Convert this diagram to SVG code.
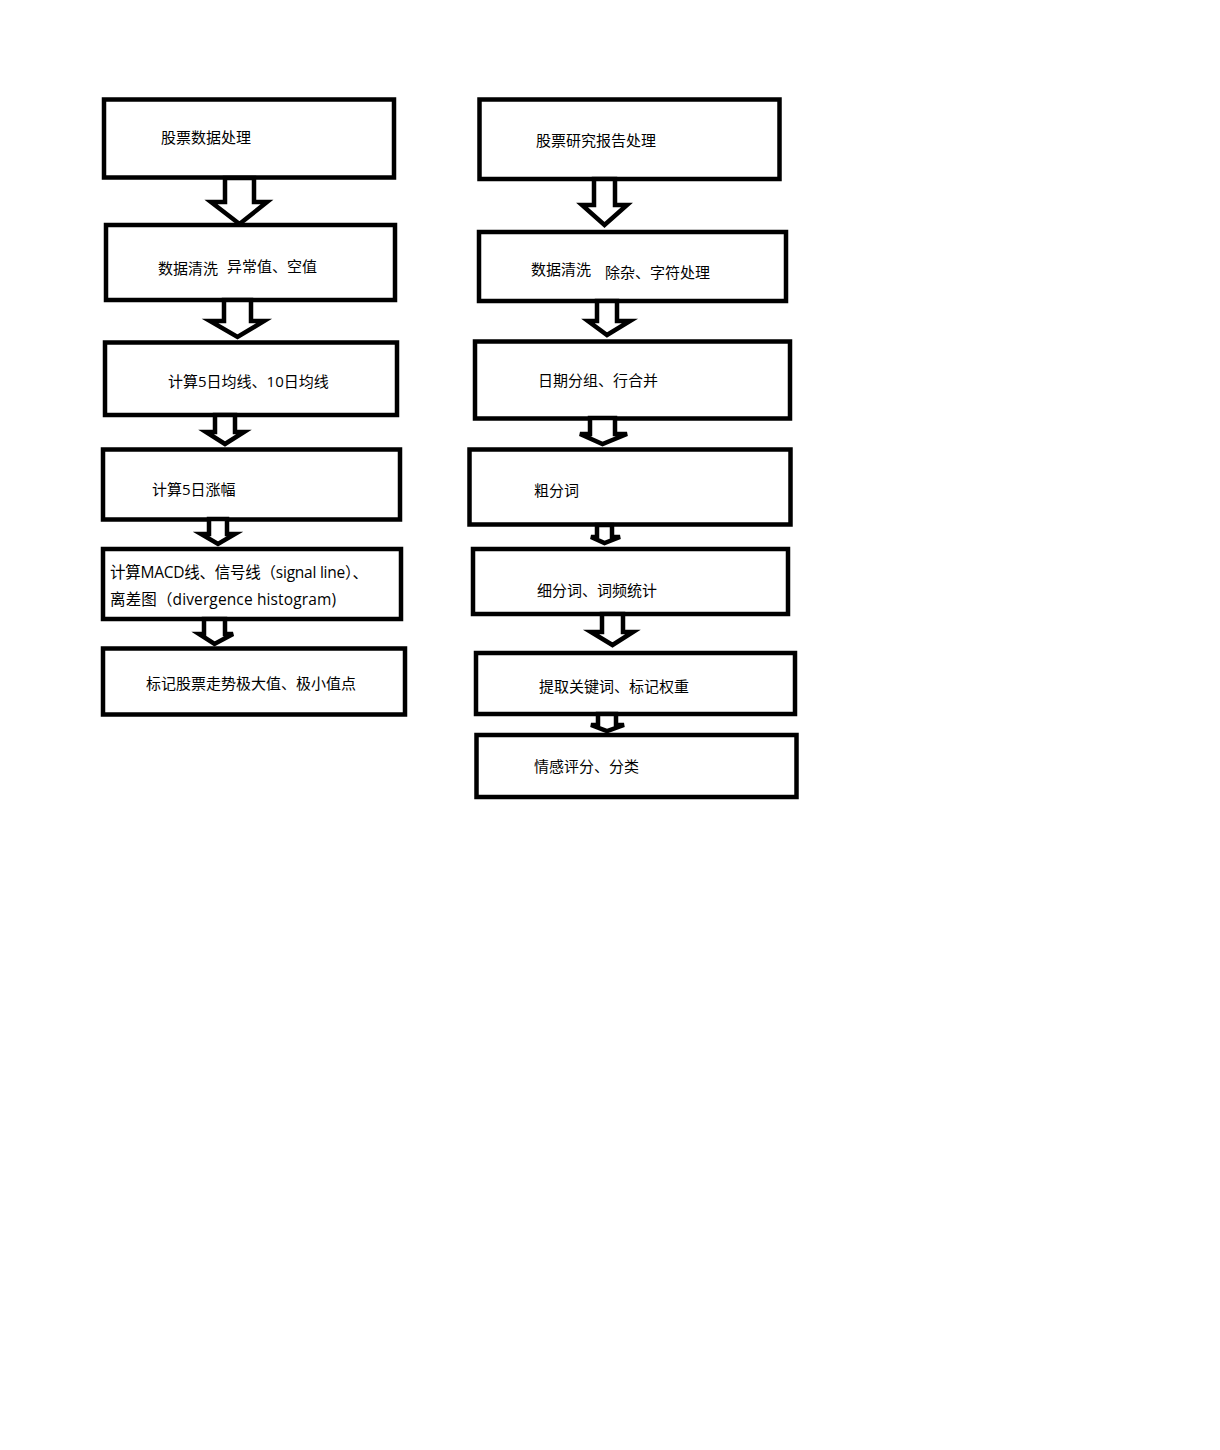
<svg xmlns="http://www.w3.org/2000/svg" width="1220" height="1450" viewBox="0 0 1220 1450">
<style>
.box{fill:#fff;stroke:#000;stroke-width:4.5}
.arr{fill:#fff;stroke:#000;stroke-width:4.5;stroke-linejoin:miter}
text{font-family:"Open Sans","Noto Sans CJK SC",sans-serif;font-size:15px;fill:#000}
.lg{font-size:15.5px}
</style>
<rect width="1220" height="1450" fill="#fff"/>
<g id="nodes">
<g id="n1"><rect class="box" x="104" y="99.5" width="290" height="78"/><text x="161" y="143">股票数据处理</text></g>
<g id="n2"><rect class="box" x="106" y="225" width="289" height="75"/><text x="158" y="274">数据清洗</text><text x="227" y="272">异常值、空值</text></g>
<g id="n3"><rect class="box" x="105" y="342.5" width="292" height="72.5"/><text x="168" y="387">计算5日均线、10日均线</text></g>
<g id="n4"><rect class="box" x="103" y="449.5" width="297" height="70"/><text x="152" y="495">计算5日涨幅</text></g>
<g id="n5"><rect class="box" x="103" y="549" width="298" height="70"/><text class="lg" x="110" y="578" textLength="258" lengthAdjust="spacing">计算MACD线、信号线（signal line）、</text><text class="lg" x="110" y="605" textLength="226" lengthAdjust="spacing">离差图（divergence histogram)</text></g>
<g id="n6"><rect class="box" x="103" y="648.5" width="302" height="66"/><text x="146" y="689">标记股票走势极大值、极小值点</text></g>
<g id="m1"><rect class="box" x="479.5" y="99.5" width="300" height="79.5"/><text x="536" y="146">股票研究报告处理</text></g>
<g id="m2"><rect class="box" x="479" y="232" width="307" height="69"/><text x="531" y="275">数据清洗</text><text x="605" y="278">除杂、字符处理</text></g>
<g id="m3"><rect class="box" x="475" y="341.5" width="315" height="77"/><text x="538" y="386">日期分组、行合并</text></g>
<g id="m4"><rect class="box" x="469.5" y="449.5" width="321" height="75"/><text x="534" y="496">粗分词</text></g>
<g id="m5"><rect class="box" x="473" y="549" width="315" height="65"/><text x="537" y="596">细分词、词频统计</text></g>
<g id="m6"><rect class="box" x="476" y="653" width="319" height="61"/><text x="539" y="692">提取关键词、标记权重</text></g>
<g id="m7"><rect class="box" x="476.5" y="735" width="320" height="62"/><text x="534" y="772">情感评分、分类</text></g>
</g>
<g id="connectors">
<polygon class="arr" points="225,178 225,202 211,202 239.5,224 267,202 254,202 254,178"/>
<polygon class="arr" points="224,300 224,321 210,321 237.5,337 264,321 251,321 251,300"/>
<polygon class="arr" points="215,415 215,432 206,432 225,444 244,432 235,432 235,415"/>
<polygon class="arr" points="209,519 209,534 201,534 218,544 235,534 227,534 227,519"/>
<polygon class="arr" points="204,619 204,634 199,634 214.5,644 233,634 225,634 225,619"/>
<polygon class="arr" points="594,179 594,205 582,205 604.5,225 627,205 615,205 615,179"/>
<polygon class="arr" points="597,301 597,321 588,321 607,335 630,321 617,321 617,301"/>
<polygon class="arr" points="590,418 590,434 580,434 602.5,444 627,434 615,434 615,418"/>
<polygon class="arr" points="597,525 597,537 591,537 604.5,543 620,537 612,537 612,525"/>
<polygon class="arr" points="602,614 602,632 591,632 612.5,645 633,632 623,632 623,614"/>
<polygon class="arr" points="598,714 598,725 591,725 607,731 624,725 616,725 616,714"/>
</g>
</svg>
